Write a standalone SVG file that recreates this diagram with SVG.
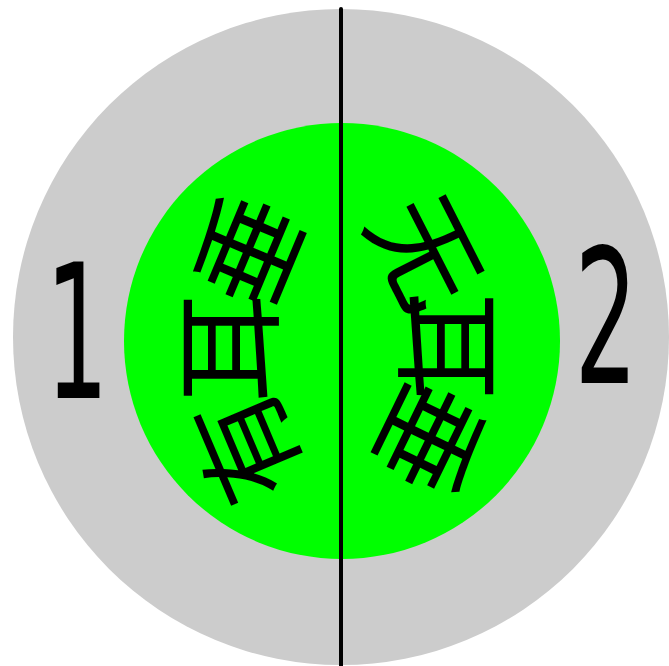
<svg xmlns="http://www.w3.org/2000/svg" width="669" height="666" viewBox="0 0 669 666">
  <style>
    .cjk { font-family: "Noto Sans CJK SC", "Noto Sans CJK JP", sans-serif; font-size: 110px; fill: #000; text-anchor: middle; dominant-baseline: central; }
    .num { font-family: "DejaVu Sans", sans-serif; font-size: 187px; fill: #000; text-anchor: middle; }
  </style>
  <g id="outer">
    <circle cx="341" cy="337" r="328" fill="#cccccc"/>
  </g>
  <g id="inner">
    <circle cx="342" cy="341" r="218" fill="#00ff00"/>
  </g>
  <g id="connectors">
    <line x1="341" y1="9" x2="341" y2="666" stroke="#000" stroke-width="4" stroke-linecap="round"/>
  </g>
  <g id="label-1">
    <text class="num" transform="translate(77,398) scale(0.53,1)">1</text>
  </g>
  <g id="label-2">
    <text class="num" transform="translate(606,383) scale(0.53,1)">2</text>
  </g>
  <g id="text-left">
    <text class="cjk" transform="translate(242,248) rotate(-67.4)">垂</text>
    <text class="cjk" transform="translate(222,348) rotate(-90)">耳</text>
    <text class="cjk" transform="translate(240,450) rotate(-113)">有</text>
  </g>
  <g id="text-right">
    <text class="cjk" transform="translate(432,249) rotate(63)">无</text>
    <text class="cjk" transform="translate(455,346) rotate(90)">耳</text>
    <text class="cjk" transform="translate(436,441) rotate(116)">垂</text>
  </g>
</svg>
